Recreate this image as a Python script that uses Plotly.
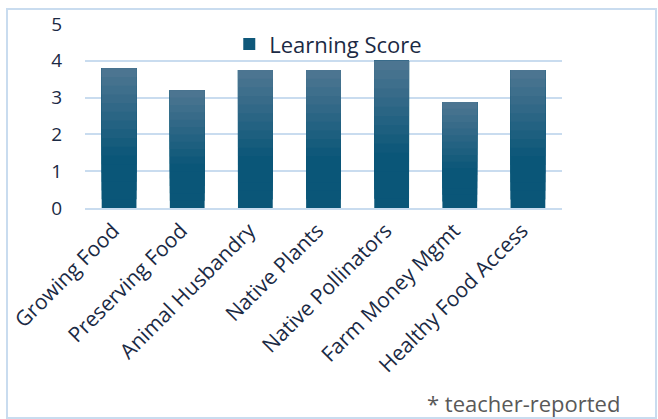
import plotly.graph_objects as go

categories = ["Growing Food", "Preserving Food", "Animal Husbandry", "Native Plants",
              "Native Pollinators", "Farm Money Mgmt", "Healthy Food Access"]
scores = [3.8, 3.2, 3.75, 3.75, 4.0, 2.88, 3.75]
series_name = "Learning Score"
y_ticks = [0, 1, 2, 3, 4, 5]

# vertical gradient emulation: bottom colour -> top colour
bottom_rgb = (10, 86, 120)
top_rgb = (76, 117, 145)
N = 16

fig = go.Figure()
for i in range(N):
    f = i / (N - 1)
    t = max(0.0, (f - 0.35) / 0.65)
    c = tuple(int(round(b + (tp - b) * t)) for b, tp in zip(bottom_rgb, top_rgb))
    color = "rgb(%d,%d,%d)" % c
    fig.add_trace(go.Bar(
        x=categories,
        y=[v * (N - i) / N for v in scores],
        base=[v * i / N for v in scores],
        marker=dict(color=color, line=dict(width=0)),
        name=series_name,
        showlegend=(i == 6),
        hoverinfo="skip",
    ))

fig.update_layout(
    width=658, height=419,
    barmode="overlay",
    bargap=0.49,
    margin=dict(l=85, r=96, t=24, b=211, autoexpand=False),
    paper_bgcolor="white",
    plot_bgcolor="white",
    font=dict(family="Open Sans, Liberation Sans, sans-serif", color="#1b2a44", size=18),
    legend=dict(x=0.51, y=0.89, xanchor="center", yanchor="middle",
                orientation="h", bgcolor="rgba(0,0,0,0)",
                font=dict(size=22, color="#1b2a44"), itemwidth=30),
    xaxis=dict(tickangle=-45, showgrid=False, showline=True, automargin=False,
               linecolor="#c9dcef", linewidth=2, ticks="",
               ticklabelshift=-6, tickfont=dict(size=21)),
    yaxis=dict(range=[0, 5], tickvals=y_ticks, showgrid=True, automargin=False,
               gridcolor="#c9dcef", gridwidth=2, zeroline=False,
               ticks="", ticklabelstandoff=22, tickfont=dict(size=19)),
    showlegend=True,
    shapes=[dict(type="rect", xref="paper", yref="paper",
                 x0=(7 - 85) / 477, x1=(656 - 85) / 477,
                 y0=-(418 - 24) / 184 + 1, y1=1 + (24 - 9) / 184,
                 line=dict(color="#c9dcef", width=2), fillcolor="rgba(0,0,0,0)",
                 layer="below")],
    annotations=[dict(text="* teacher-reported", xref="paper", yref="paper",
                      x=(622 - 85) / 477, y=1 - (420 - 24) / 184,
                      xanchor="right", yanchor="bottom", showarrow=False,
                      font=dict(size=22, color="#595959"))],
)

fig.write_html("out.html", config={"displayModeBar": False},
               post_script="document.body.style.margin='0';")
